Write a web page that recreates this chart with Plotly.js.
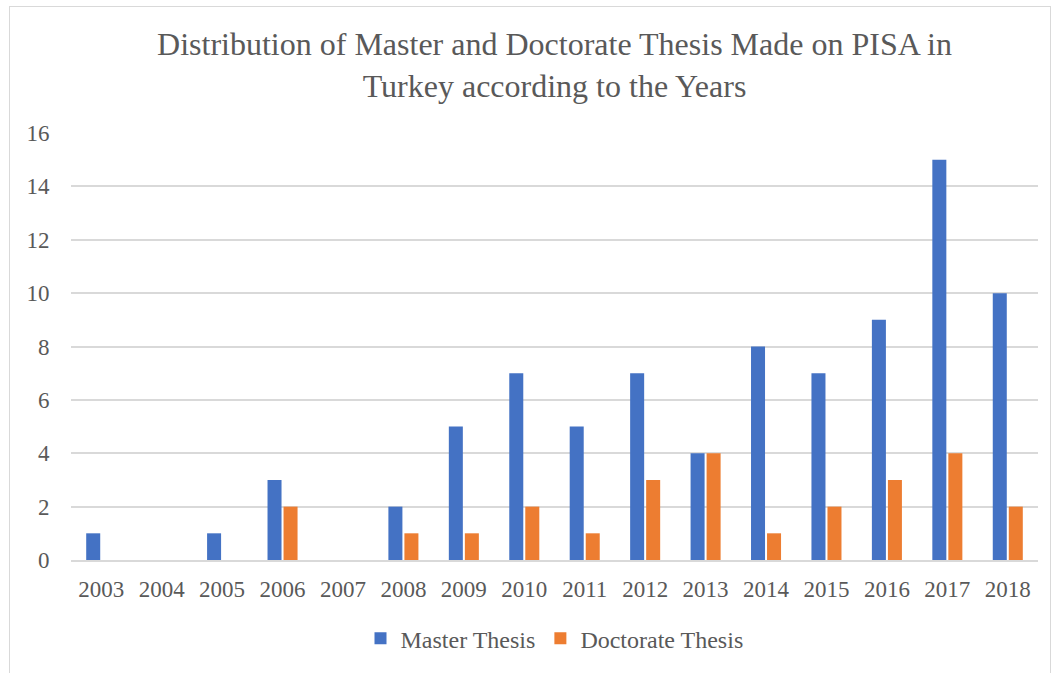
<!DOCTYPE html>
<html>
<head>
<meta charset="utf-8">
<script src="https://cdn.plot.ly/plotly-3.0.1.min.js"></script>
<style>
  html, body { margin: 0; padding: 0; background: #fff; }
  #wrap { position: relative; width: 1057px; height: 673px; }
  #chart { width: 1057px; height: 673px; }
  #frame { position: absolute; left: 9px; top: 6px; width: 1040px; height: 680px; border: 1px solid #d9d9d9; pointer-events: none; }
</style>
</head>
<body>
<div id="wrap">
  <div id="chart"></div>
  <div id="frame"></div>
</div>
<script>
const years = ["2003","2004","2005","2006","2007","2008","2009","2010","2011","2012","2013","2014","2015","2016","2017","2018"];
const masterThesis = [1,0,1,3,0,2,5,7,5,7,4,8,7,9,15,10];
const doctorateThesis = [0,0,0,2,0,1,1,2,1,3,4,1,2,3,4,2];
const yTicks = [0,2,4,6,8,10,12,14,16];

const fontFam = 'Liberation Serif';
const txt = '#595959';

const traces = [
  { type: 'bar', name: 'Master Thesis', x: years, y: masterThesis, marker: { color: '#4472C4' }, hoverinfo: 'x+y+name' },
  { type: 'bar', name: 'Doctorate Thesis', x: years, y: doctorateThesis, marker: { color: '#ED7D31' }, hoverinfo: 'x+y+name' }
];

const layout = {
  width: 1057, height: 673,
  paper_bgcolor: '#ffffff', plot_bgcolor: '#ffffff',
  font: { family: fontFam, color: txt, size: 23 },
  margin: { l: 71, r: 19, t: 133, b: 111 },
  barmode: 'group',
  bargap: 0.47,
  bargroupgap: 0.125,
  title: {
    text: 'Distribution of Master and Doctorate Thesis Made on PISA in<br>Turkey according to the Years',
    font: { family: fontFam, size: 32, color: txt },
    x: 0.5, xanchor: 'center', xref: 'paper',
    y: 1 - 55/673, yanchor: 'middle', yref: 'container'
  },
  xaxis: {
    type: 'category',
    tickfont: { family: fontFam, size: 23, color: txt },
    showgrid: false, zeroline: false,
    showline: true, linecolor: '#d9d9d9', linewidth: 1.5,
    ticks: 'outside', ticklen: 8, tickcolor: 'rgba(0,0,0,0)'
  },
  yaxis: {
    range: [0, 16],
    tickvals: yTicks, ticktext: yTicks.map(String),
    tickfont: { family: fontFam, size: 23, color: txt },
    showgrid: true, gridcolor: '#d9d9d9', gridwidth: 1.5,
    zeroline: false, showline: false,
    ticks: 'outside', ticklen: 16, tickcolor: 'rgba(0,0,0,0)',
    fixedrange: true
  },
  showlegend: true,
  legend: {
    orientation: 'h', x: 0.5, xanchor: 'center', y: -0.184, yanchor: 'middle',
    font: { family: fontFam, size: 24, color: txt },
    traceorder: 'normal'
  }
};

Plotly.newPlot('chart', traces, layout, { displayModeBar: false });
</script>
</body>
</html>
